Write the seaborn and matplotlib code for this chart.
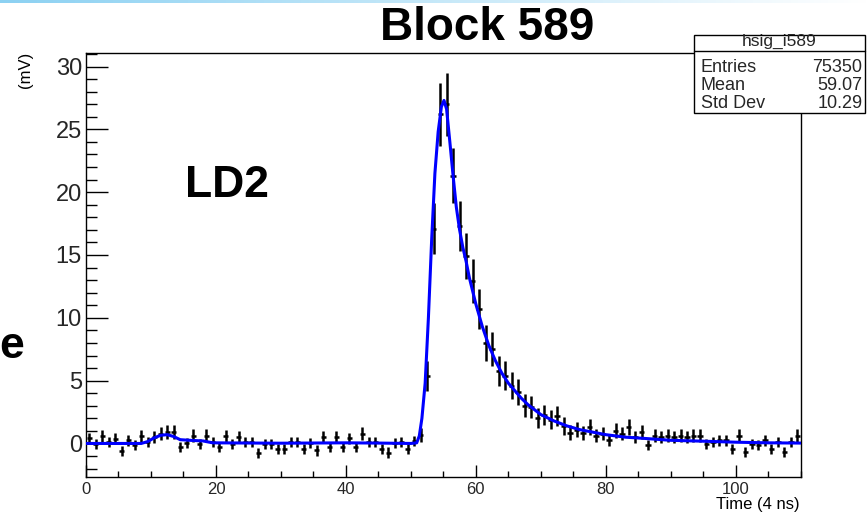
import numpy as np
import pandas as pd
import matplotlib
matplotlib.use("Agg")
import matplotlib.pyplot as plt
from matplotlib.patches import Rectangle
from matplotlib.ticker import MultipleLocator
import seaborn as sns

# ---------------- data ----------------
title = "Block 589"
target_label = "LD2"
x_title = "Time (4 ns)"
y_title = "(mV)"
stats_name = "hsig_i589"
stats_rows = ["Entries", "Mean", "Std Dev"]
stats_vals = ["75350", "59.07", "10.29"]

n_bins = 110
bin_centers = np.arange(n_bins) + 0.5

signal = [
    0.42, -0.03, 0.56, 0.10, 0.37, -0.61, 0.24, -0.16, 0.56, 0.10,
    0.50, 0.77, 0.90, 0.90, -0.29, 0.03, 0.63, -0.03, 0.63, 0.10,
    -0.29, 0.56, -0.03, 0.50, 0.10, 0.10, -0.77, -0.03, -0.03, -0.42,
    -0.42, 0.10, 0.10, -0.42, 0.03, -0.56, 0.50, -0.29, 0.50, -0.29,
    0.40, -0.29, 0.77, 0.10, 0.10, -0.45, -0.72, 0.05, 0.10, -0.45,
    0.20, 0.70, 5.40, 17.1, 26.2, 27.0, 21.3, 17.3, 14.9, 12.9,
    10.7, 8.0, 7.5, 5.8, 5.4, 4.6, 4.1, 3.0, 2.9, 2.0,
    2.3, 1.9, 2.2, 1.4, 0.85, 1.1, 0.8, 1.3, 0.63, 0.77,
    0.24, 1.03, 0.77, 1.30, 0.50, 0.90, -0.16, 0.63, 0.50, 0.63,
    0.50, 0.63, 0.50, 0.63, 0.63, -0.03, 0.10, 0.24, 0.24, -0.42,
    0.63, -0.69, -0.03, -0.16, 0.24, -0.42, 0.10, -0.69, 0.10, 0.63,
]

errors = [
    0.45, 0.40, 0.50, 0.42, 0.45, 0.40, 0.43, 0.40, 0.50, 0.42,
    0.48, 0.52, 0.55, 0.55, 0.40, 0.40, 0.50, 0.40, 0.50, 0.42,
    0.40, 0.50, 0.40, 0.48, 0.42, 0.42, 0.40, 0.40, 0.40, 0.40,
    0.40, 0.42, 0.42, 0.40, 0.40, 0.40, 0.48, 0.40, 0.48, 0.40,
    0.45, 0.40, 0.52, 0.42, 0.42, 0.40, 0.40, 0.40, 0.42, 0.40,
    0.43, 0.55, 1.20, 2.00, 2.50, 2.50, 2.20, 2.00, 1.85, 1.75,
    1.60, 1.40, 1.35, 1.20, 1.15, 1.05, 1.00, 0.90, 0.90, 0.80,
    0.80, 0.75, 0.80, 0.70, 0.60, 0.60, 0.55, 0.65, 0.50, 0.52,
    0.43, 0.58, 0.52, 0.62, 0.48, 0.55, 0.40, 0.50, 0.48, 0.50,
    0.48, 0.50, 0.48, 0.50, 0.50, 0.40, 0.42, 0.43, 0.43, 0.40,
    0.50, 0.40, 0.40, 0.40, 0.43, 0.40, 0.42, 0.40, 0.42, 0.50,
]

fit_x = [0, 8.5, 9.5, 10.5, 11.5, 12.5, 13.5, 14.5, 16, 18, 19.5, 30, 40, 45, 50,
         50.9, 51.3, 51.7, 52.2, 52.7, 53.2, 53.7, 54.2, 54.7, 55.1, 55.5, 56.0,
         56.5, 57.0, 57.5, 58.0, 58.5, 59.0, 60.0, 61.0, 62.0, 63.0, 64.0, 65.0,
         66.0, 67.0, 68.0, 69.0, 70.0, 72.0, 74.0, 76.0, 78.0, 80.0, 83.0, 86.0,
         90.0, 95.0, 100.0, 105.0, 110.0]
fit_y = [0.0, 0.0, 0.15, 0.45, 0.65, 0.70, 0.55, 0.30, 0.25, 0.20, 0.05, 0.02, 0.05, 0.03, 0.0,
         0.05, 0.6, 2.0, 4.8, 10.0, 16.2, 21.5, 24.8, 26.8, 27.3, 26.6, 24.0,
         21.3, 18.8, 17.0, 15.6, 14.5, 13.2, 11.1, 9.3, 7.8, 6.6, 5.6, 4.8,
         4.2, 3.6, 3.1, 2.7, 2.3, 1.8, 1.4, 1.1, 0.9, 0.7, 0.5, 0.4,
         0.25, 0.18, 0.10, 0.05, 0.03]

# ---------------- style ----------------
sns.set_theme(style="white")
plt.rcParams["font.family"] = ["Liberation Sans", "DejaVu Sans"]

W, H = 868, 515
fig = plt.figure(figsize=(W / 100, H / 100), dpi=100)
fig.patch.set_facecolor("white")

def fx(px):
    return px / W

def fy(py):
    return 1 - py / H

left, right, top, bottom = 86, 800.7, 52.7, 476.5
ax = fig.add_axes([fx(left), fy(bottom), fx(right) - fx(left), (bottom - top) / H])
ax.set_facecolor("white")

df_pts = pd.DataFrame({"time": bin_centers, "signal": signal, "err": errors})
df_fit = pd.DataFrame({"time": fit_x, "fit": fit_y})

ax.errorbar(df_pts["time"], df_pts["signal"], yerr=df_pts["err"], xerr=0.4,
            fmt="none", ecolor="black", elinewidth=1.8, capsize=0, zorder=2)
sns.lineplot(data=df_fit, x="time", y="fit", color="#0000ff", linewidth=2.2,
             ax=ax, zorder=3)

ax.set_xlim(0, 110)
ax.set_ylim(-2.63, 31.1)
ax.set_xlabel("")
ax.set_ylabel("")

ax.xaxis.set_major_locator(MultipleLocator(20))
ax.xaxis.set_minor_locator(MultipleLocator(5))
ax.yaxis.set_major_locator(MultipleLocator(5))
ax.yaxis.set_minor_locator(MultipleLocator(1))
ax.tick_params(axis="x", which="major", direction="in", length=9, width=1,
               labelsize=12, pad=4, bottom=True, top=False, color="black")
ax.tick_params(axis="x", which="minor", direction="in", length=4.5, width=1,
               bottom=True, top=False, color="black")
ax.tick_params(axis="y", which="major", direction="in", length=16, width=1,
               labelsize=17, pad=3, left=True, right=False, color="black")
ax.tick_params(axis="y", which="minor", direction="in", length=8, width=1,
               left=True, right=False, color="black")
for s in ax.spines.values():
    s.set_color("black")
    s.set_linewidth(1.0)
    s.set_visible(True)

# texts
fig.text(fx(487), fy(28), title, ha="center", va="center", fontsize=33,
         fontweight="bold", color="black")
fig.text(fx(185), fy(186), target_label, ha="left", va="center", fontsize=32,
         fontweight="bold", color="black")
fig.text(fx(24), fy(347), "e", ha="right", va="center", fontsize=32,
         fontweight="bold", color="black")
fig.text(fx(25.5), fy(70), y_title, ha="center", va="center", rotation=90,
         fontsize=12, color="black")
fig.text(fx(800), fy(505), x_title, ha="right", va="center", fontsize=12,
         color="black")

# stats box
bx0, bx1, by0, by1, bysep = 694, 865, 35, 113, 51
fig.patches.append(Rectangle((fx(bx0), fy(by1)), fx(bx1) - fx(bx0), (by1 - by0) / H,
                             transform=fig.transFigure, facecolor="white",
                             edgecolor="black", linewidth=1.0, zorder=5))
fig.add_artist(plt.Line2D([fx(bx0), fx(bx1)], [fy(bysep), fy(bysep)],
                          transform=fig.transFigure, color="black", lw=1.0, zorder=6))
fig.text(fx((bx0 + bx1) / 2), fy(41.5), stats_name, ha="center", va="center",
         fontsize=12.5, zorder=7)
row_y = [67, 85, 103]
for lab, val, yy in zip(stats_rows, stats_vals, row_y):
    fig.text(fx(701), fy(yy), lab, ha="left", va="center", fontsize=13, zorder=7)
    fig.text(fx(862.5), fy(yy), val, ha="right", va="center", fontsize=13, zorder=7)

# thin gradient bar on top edge
gax = fig.add_axes([0, 1 - 3 / H, 1, 3 / H])
grad = np.linspace(0, 1, 256)[None, :]
c0 = np.array([0.55, 0.82, 0.95])
c1 = np.array([1.0, 1.0, 1.0])
img = c0[None, None, :] * (1 - grad[..., None]) + c1[None, None, :] * grad[..., None]
gax.imshow(img, aspect="auto")
gax.axis("off")

fig.savefig("out.png", dpi=100)
